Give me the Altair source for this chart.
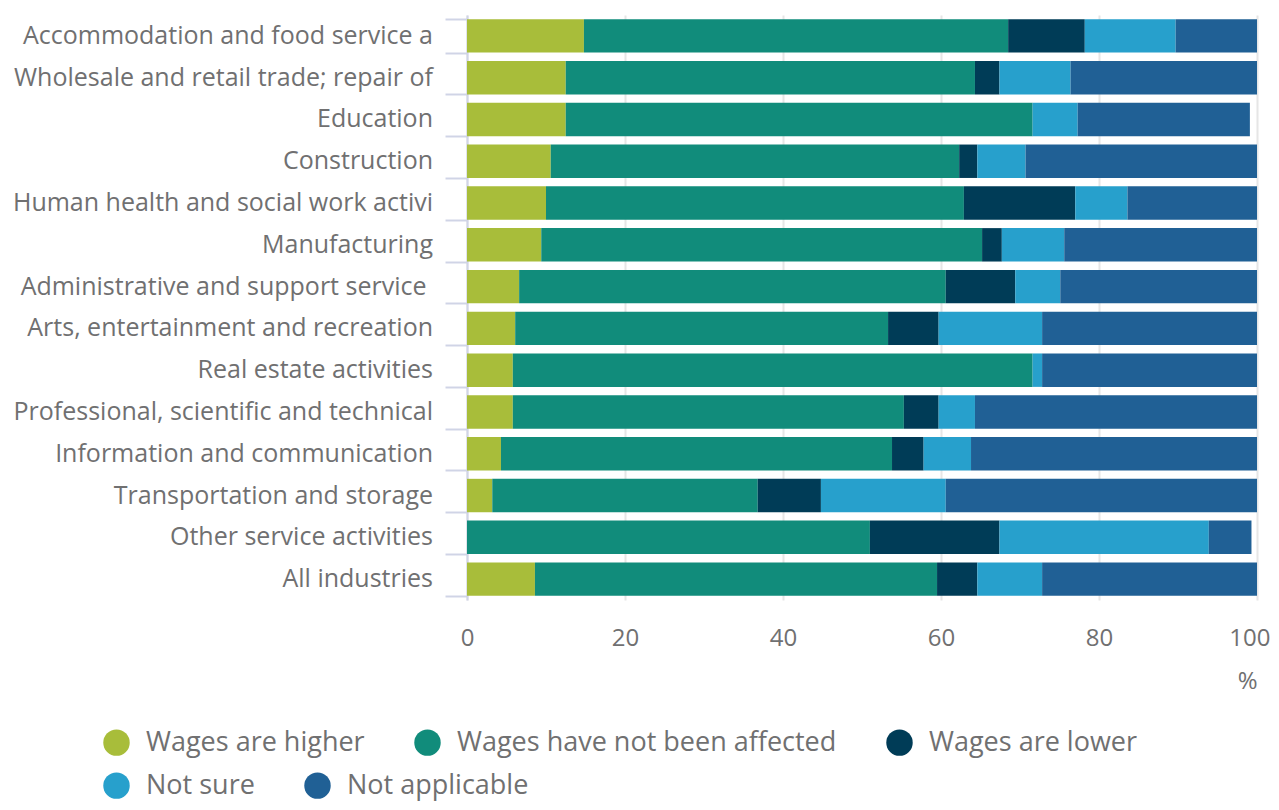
import altair as alt
import pandas as pd

categories = [
    "Accommodation and food service activities",
    "Wholesale and retail trade; repair of motor vehicles and motorcycles",
    "Education",
    "Construction",
    "Human health and social work activities",
    "Manufacturing",
    "Administrative and support service activities",
    "Arts, entertainment and recreation",
    "Real estate activities",
    "Professional, scientific and technical activities",
    "Information and communication",
    "Transportation and storage",
    "Other service activities",
    "All industries",
]
series = ["Wages are higher", "Wages have not been affected", "Wages are lower",
          "Not sure", "Not applicable"]
colors = ["#a8bd3a", "#118c7b", "#003c57", "#27a0cc", "#206095"]
x_ticks = [0, 20, 40, 60, 80, 100]

wages_higher = [14.8, 12.5, 12.5, 10.6, 10.0, 9.4, 6.6, 6.1, 5.8, 5.8, 4.3, 3.2, 0.0, 8.6]
not_affected = [53.7, 51.8, 59.1, 51.7, 52.9, 55.8, 54.0, 47.2, 65.8, 49.5, 49.5, 33.6, 51.0, 50.9]
wages_lower = [9.7, 3.1, 0.0, 2.3, 14.1, 2.5, 8.8, 6.4, 0.0, 4.4, 4.0, 8.0, 16.4, 5.1]
not_sure = [11.5, 9.0, 5.7, 6.1, 6.6, 7.9, 5.7, 13.1, 1.2, 4.6, 6.0, 15.8, 26.5, 8.2]
not_applicable = [10.3, 23.6, 21.8, 29.3, 16.4, 24.4, 24.9, 27.2, 27.2, 35.7, 36.2, 39.4, 5.4, 27.2]

values = [wages_higher, not_affected, wages_lower, not_sure, not_applicable]
rows = []
for si, (s, vals) in enumerate(zip(series, values)):
    for c, v in zip(categories, vals):
        rows.append({"category": c, "series": s, "value": v, "order": si})
df = pd.DataFrame(rows)
labels_df = pd.DataFrame({"category": categories})

FONT = "Open Sans"
TEXT = "#707071"
AXIS_BLUE = "#d0d4e6"

y_enc = alt.Y("category:N", sort=categories,
              scale=alt.Scale(paddingInner=0.2, paddingOuter=0.1),
              axis=alt.Axis(title=None, labels=False, domain=True, domainColor=AXIS_BLUE,
                            domainWidth=2, ticks=True, tickColor=AXIS_BLUE, tickWidth=2,
                            tickSize=22, tickBand="extent", grid=False))

x_enc = alt.X("x0:Q",
              scale=alt.Scale(domain=[0, 100], nice=False),
              axis=alt.Axis(title="%", values=x_ticks, domain=False,
                            ticks=False, grid=True, gridColor="#e6e6e6", gridWidth=2,
                            labelFlush=False,
                            labelAlign={"condition": {"test": "datum.value === 100",
                                                      "value": "right"},
                                        "value": "center"},
                            labelOffset={"condition": {"test": "datum.value === 100",
                                                       "value": 13},
                                         "value": 0},
                            labelFont=FONT, labelFontSize=24, labelColor=TEXT,
                            labelPadding=26,
                            titleFont=FONT, titleFontSize=24, titleColor=TEXT,
                            titleFontWeight="normal", titleAnchor="end", titleAlign="right",
                            titlePadding=19))

base = alt.Chart(df).transform_stack(
    stack="value", groupby=["category"], as_=["x0", "x1"],
    sort=[alt.SortField("order", order="ascending")],
).encode(x=x_enc, x2="x1:Q", y=y_enc)


def legend(y):
    return alt.Legend(title=None, orient="none", legendX=-364, legendY=y,
                      direction="horizontal", symbolType="circle", symbolSize=700,
                      symbolStrokeWidth=0, labelFont=FONT, labelFontSize=27,
                      labelColor=TEXT, labelOffset=16, columnPadding=49,
                      padding=0, labelLimit=600)


bars_a = base.transform_filter("datum.order < 3").mark_bar().encode(
    color=alt.Color("series:N", sort=series[:3],
                    scale=alt.Scale(domain=series[:3], range=colors[:3]),
                    legend=legend(714)),
)
bars_b = base.transform_filter("datum.order >= 3").mark_bar().encode(
    color=alt.Color("series:N", sort=series[3:],
                    scale=alt.Scale(domain=series[3:], range=colors[3:]),
                    legend=legend(757)),
)

labels = alt.Chart(labels_df).mark_text(
    align="right", baseline="middle", font=FONT, fontSize=25, color=TEXT,
    limit=421, ellipsis="\u200b",
).encode(
    y=alt.Y("category:N", sort=categories),
    x=alt.value(-34),
    text="category:N",
)

chart = alt.layer(bars_a, bars_b, labels).resolve_scale(
    color="independent"
).properties(
    width=790, height=585,
    autosize=alt.AutoSizeParams(type="none"),
    padding={"left": 459, "top": 7, "right": 14, "bottom": 202},
).configure_view(stroke=None)

chart.save("out.html", embed_options={"renderer": "svg", "actions": False})
